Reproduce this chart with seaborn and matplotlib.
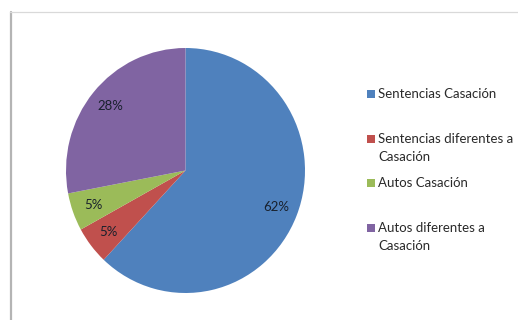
import matplotlib
matplotlib.use("Agg")
import matplotlib.pyplot as plt
from matplotlib.patches import Rectangle
from matplotlib.lines import Line2D
import seaborn as sns

# Share of decisions by type
categories = ["Sentencias Casación", "Sentencias diferentes a\nCasación",
              "Autos Casación", "Autos diferentes a\nCasación"]
shares = [62, 5, 5, 28]
colors = ["#4F81BD", "#C0504D", "#9BBB59", "#8064A2"]

sns.set_theme(style="white")
plt.rcParams["font.family"] = ["Lato", "DejaVu Sans"]
palette = sns.color_palette(colors)

W, H = 518, 320
fig = plt.figure(figsize=(W / 100, H / 100), dpi=100)
fig.patch.set_facecolor("white")

def px(x, y):
    """Pixel coordinates (origin top-left) to figure fraction."""
    return x / W, 1 - y / H

# Chart-area frame: left and top edges
fig.add_artist(Line2D([10.8 / W, 10.8 / W], [0, 1 - 12 / H], transform=fig.transFigure,
                      color="#b4b4b4", lw=1.6))
fig.add_artist(Line2D([10 / W, 1], [1 - 12 / H, 1 - 12 / H], transform=fig.transFigure,
                      color="#d9d9d9", lw=0.9))

# Pie
cx, cy, rx, ry = 185.5, 170.5, 119.5, 122.5
ax = fig.add_axes([(cx - rx) / W, 1 - (cy + ry) / H, 2 * rx / W, 2 * ry / H])
wedges, texts, autotexts = ax.pie(
    shares, colors=palette, startangle=90, counterclock=False,
    autopct=lambda p: f"{p:.0f}%", pctdistance=0.82,
    wedgeprops=dict(linewidth=0),
    textprops=dict(fontsize=9.5, color="#18202c"),
)
ax.set_xlim(-1, 1)
ax.set_ylim(-1, 1)
ax.set_aspect("auto")
ax.axis("off")

# Legend
x_box, x_text = 367, 378
y_first, step, line_h = 94, 44.7, 18
for i, (lab, col) in enumerate(zip(categories, palette)):
    yc = y_first + step * i
    bx, by = px(x_box, yc + 4)
    fig.add_artist(Rectangle((bx, by), 8 / W, 8 / H, transform=fig.transFigure,
                             facecolor=col, edgecolor="none"))
    for k, line in enumerate(lab.split("\n")):
        tx, ty = px(x_text, yc + line_h * k)
        fig.text(tx, ty, line, fontsize=9.5, color="#2a2a2a", va="center", ha="left")

fig.savefig("out.png", dpi=100)
